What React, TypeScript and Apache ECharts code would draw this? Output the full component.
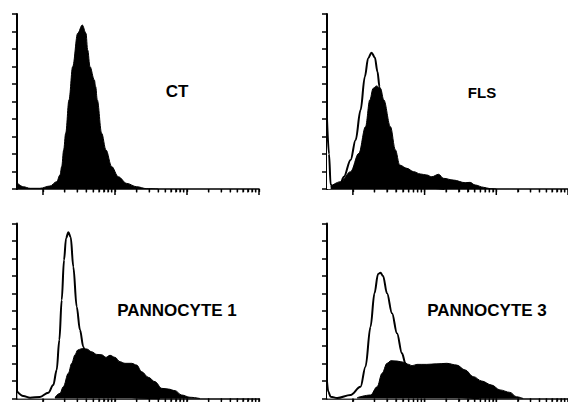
import React, { useEffect, useRef } from "react";
import * as echarts from "echarts";

// x values are log10(fluorescence intensity); y values are relative cell counts (0-100)
const X_MIN = 0.639;
const X_MAX = 4;
const majorTicks = [1, 2, 3, 4];
const minorDecades = [1, 2, 3];
const minorMultipliers = [2, 3, 4, 5, 6, 7, 8, 9];
const yTicks = { min: 0, max: 100, interval: 10 };

const panelLabels = ["CT", "FLS", "PANNOCYTE 1", "PANNOCYTE 3"];

// CT (filled only)
const ctFilledX = [0.643, 0.727, 0.82, 0.958, 1.097, 1.19, 1.236, 1.26, 1.287, 1.315, 1.361, 1.412, 1.482, 1.546, 1.597, 1.621, 1.653, 1.713, 1.732, 1.754, 1.815, 1.875, 1.954, 2.046, 2.163, 2.301, 2.44, 2.6];
const ctFilledY = [3.4, 1.3, 0.4, 0.4, 1.7, 4.2, 8.0, 12.8, 22.3, 31.8, 50.9, 69.9, 89, 93.7, 89, 79.4, 69.9, 62.3, 58.5, 50.9, 31.8, 22.3, 12.8, 7.0, 3.2, 1.3, 0.2, 0];

// FLS
const flsOpenX = [0.639, 0.667, 0.69, 0.736, 0.782, 0.82, 0.875, 0.968, 1.038, 1.107, 1.167, 1.213, 1.26, 1.306, 1.343, 1.371, 1.417, 1.486, 1.556, 1.653, 1.792, 2.0, 2.278];
const flsOpenY = [40, 20, 2.5, 1.0, 1.5, 2.5, 7.0, 16.6, 28, 45.1, 64.2, 74.7, 77.9, 75.2, 67, 58.5, 42, 26, 14, 6, 2.5, 1, 0];
const flsFilledX = [0.69, 0.829, 0.968, 1.083, 1.176, 1.236, 1.282, 1.329, 1.385, 1.431, 1.524, 1.593, 1.653, 1.754, 1.847, 1.94, 2.032, 2.101, 2.195, 2.264, 2.403, 2.565, 2.635, 2.704, 2.82, 2.912, 3.0];
const flsFilledY = [1.5, 4.2, 9.9, 20.4, 35.6, 50.9, 57.5, 58.9, 57.5, 50.9, 35.6, 22.3, 13.7, 11.8, 9.9, 8.6, 8.0, 7.0, 8.4, 6.1, 5.1, 3.6, 3.8, 2.3, 1.0, 0.2, 0];

// PANNOCYTE 1
const p1OpenX = [0.643, 0.727, 0.82, 0.958, 1.074, 1.143, 1.19, 1.227, 1.26, 1.292, 1.32, 1.352, 1.385, 1.421, 1.468, 1.514, 1.56, 1.625, 1.722, 1.861, 2.07, 2.347, 2.625];
const p1OpenY = [3.9, 1.4, 0.5, 0.9, 3.3, 7.7, 16.3, 33.4, 56.3, 79.1, 91.5, 95, 92.1, 75.3, 52.5, 39.1, 29.6, 18, 9, 4, 1.5, 0.5, 0];
const p1FilledX = [1.167, 1.236, 1.282, 1.352, 1.399, 1.444, 1.482, 1.538, 1.607, 1.676, 1.746, 1.815, 1.875, 1.931, 2.0, 2.07, 2.139, 2.232, 2.301, 2.371, 2.463, 2.556, 2.649, 2.74, 2.833, 2.926, 3.042, 3.18];
const p1FilledY = [0.7, 3.0, 6.7, 14.4, 20.1, 24.9, 27.7, 28.5, 28.3, 26.7, 25.2, 25, 23.5, 24.7, 23.5, 21, 20.1, 20.1, 19.1, 15.3, 12.1, 9.6, 5.8, 5.4, 4.5, 2.0, 0.7, 0];

// PANNOCYTE 3
const p3OpenX = [0.639, 0.657, 0.69, 0.782, 0.968, 1.107, 1.176, 1.246, 1.301, 1.351, 1.385, 1.421, 1.476, 1.546, 1.615, 1.685, 1.732, 1.792, 1.903, 2.07, 2.347, 2.764];
const p3OpenY = [9.6, 3.9, 1.0, 0.3, 2.0, 6.7, 18.2, 41, 60.1, 71.1, 71.9, 70, 60.1, 48.7, 37.3, 25.8, 20.1, 13, 6, 2.5, 1, 0];
const p3FilledX = [1.06, 1.246, 1.338, 1.407, 1.476, 1.532, 1.615, 1.708, 1.778, 1.824, 1.893, 2.032, 2.171, 2.31, 2.449, 2.565, 2.681, 2.796, 2.935, 3.051, 3.19, 3.282, 3.375];
const p3FilledY = [0.5, 2.0, 6.7, 14.4, 20.1, 21.6, 21.4, 20.7, 19.5, 18.7, 19.5, 19.5, 19.8, 20.1, 19.1, 16.3, 12.5, 10, 7.7, 4.9, 3.5, 1.0, 0];

const zip = (xs: number[], ys: number[]) => xs.map((x, i) => [x, ys[i]]);

export default function App() {
  const ref = useRef<HTMLDivElement>(null);

  useEffect(() => {
    if (!ref.current) return;
    const chart = echarts.init(ref.current, undefined, { renderer: "svg" });

    const grids = [
      { left: 17, top: 14, width: 242, height: 175 },
      { left: 327, top: 14, width: 242, height: 175 },
      { left: 17, top: 223.5, width: 242, height: 175 },
      { left: 327, top: 223.5, width: 242, height: 175 },
    ];

    const minorValues: number[] = [];
    minorDecades.forEach((d) =>
      minorMultipliers.forEach((m) => minorValues.push(d + Math.log10(m)))
    );
    const allTicks = [...majorTicks, ...minorValues].sort((a, b) => a - b);

    const xAxes: any[] = [];
    const yAxes: any[] = [];
    grids.forEach((_, g) => {
      xAxes.push({
        type: "value",
        gridIndex: g,
        min: X_MIN,
        max: X_MAX,
        axisLine: { show: true, lineStyle: { color: "#000", width: 1.6 } },
        axisTick: { show: true, customValues: allTicks, length: 3, lineStyle: { color: "#000", width: 1.3 } },
        axisLabel: { show: false },
        splitLine: { show: false },
      });
      yAxes.push({
        type: "value",
        gridIndex: g,
        min: yTicks.min,
        max: yTicks.max,
        interval: yTicks.interval,
        axisLine: { show: true, lineStyle: { color: "#000", width: 2 } },
        axisTick: { show: true, inside: false, length: 5, lineStyle: { color: "#000", width: 1.5 } },
        axisLabel: { show: false },
        splitLine: { show: false },
      });
    });

    const openSeries = (g: number, data: number[][]) => ({
      type: "line",
      xAxisIndex: g,
      yAxisIndex: g,
      data,
      smooth: 0.35,
      smoothMonotone: "x",
      showSymbol: false,
      lineStyle: { color: "#000", width: 2 },
      areaStyle: { color: "#fff", opacity: 1 },
      z: 2,
    });
    const filledSeries = (g: number, data: number[][]) => ({
      type: "line",
      xAxisIndex: g,
      yAxisIndex: g,
      data,
      smooth: 0.35,
      smoothMonotone: "x",
      showSymbol: false,
      lineStyle: { color: "#000", width: 1 },
      areaStyle: { color: "#000", opacity: 1 },
      z: 3,
    });
    // log-scale tick marks below each x axis (decades longer than the 2..9 subdivisions)
    const logTicks = (g: number) => ({
      type: "custom",
      xAxisIndex: g,
      yAxisIndex: g,
      clip: false,
      silent: true,
      z: 6,
      data: allTicks.map((v) => [v, yTicks.min]),
      renderItem: (_params: any, api: any) => {
        const v = api.value(0);
        const p = api.coord([v, api.value(1)]);
        const isMajor = majorTicks.some((m) => Math.abs(m - v) < 1e-6);
        return {
          type: "line",
          shape: { x1: p[0], y1: p[1], x2: p[0], y2: p[1] + (isMajor ? 6 : 3.5) },
          style: { stroke: "#000", lineWidth: isMajor ? 1.5 : 1.3 },
        };
      },
    });

    const labelPos = [
      { x: 177, y: 91, size: 17 },
      { x: 482, y: 92, size: 15 },
      { x: 177, y: 310.5, size: 17 },
      { x: 487, y: 310, size: 17 },
    ];

    chart.setOption({
      animation: false,
      backgroundColor: "#fff",
      grid: grids,
      xAxis: xAxes,
      yAxis: yAxes,
      series: [
        filledSeries(0, zip(ctFilledX, ctFilledY)),
        openSeries(1, zip(flsOpenX, flsOpenY)),
        filledSeries(1, zip(flsFilledX, flsFilledY)),
        openSeries(2, zip(p1OpenX, p1OpenY)),
        filledSeries(2, zip(p1FilledX, p1FilledY)),
        openSeries(3, zip(p3OpenX, p3OpenY)),
        filledSeries(3, zip(p3FilledX, p3FilledY)),
        logTicks(0),
        logTicks(1),
        logTicks(2),
        logTicks(3),
      ],
      graphic: panelLabels.map((t, i) => ({
        type: "text",
        x: labelPos[i].x,
        y: labelPos[i].y,
        style: {
          text: t,
          fill: "#000",
          font: `bold ${labelPos[i].size}px "Liberation Sans", Arial, sans-serif`,
          textAlign: "center",
          textVerticalAlign: "middle",
        },
      })),
    });

    return () => chart.dispose();
  }, []);

  return <div ref={ref} style={{ width: 568, height: 402, position: "absolute", left: 0, top: 0 }} />;
}
